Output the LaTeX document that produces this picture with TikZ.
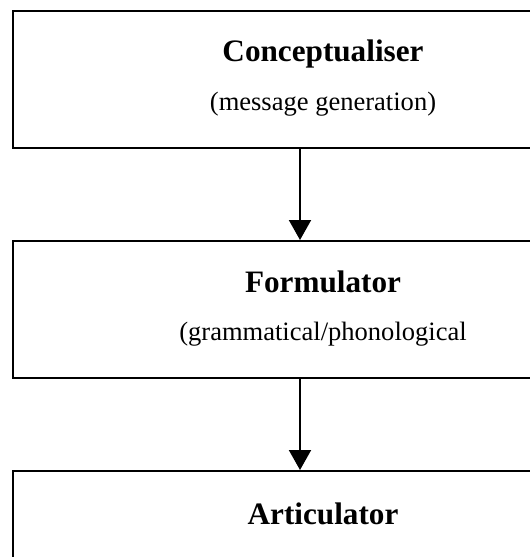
\documentclass[tikz,border=0pt]{standalone}
\usepackage{fontspec}
\setmainfont{Liberation Serif}
\usetikzlibrary{arrows.meta,positioning}

\begin{document}
\begin{tikzpicture}[x=0.75pt, y=-0.75pt,
  stage/.style={draw, line width=1.5pt, minimum width=465pt, minimum height=102.75pt, inner sep=0pt},
  ttl/.style={font=\fontsize{23.4}{28}\selectfont\bfseries, anchor=base, inner sep=0pt},
  sub/.style={font=\fontsize{19.9}{24}\selectfont, anchor=base, inner sep=0pt},
  flow/.style={-{Triangle[width=16.5pt,length=15pt]}, line width=1.5pt}]
\useasboundingbox (0,0) rectangle (530,557);
% Stages
\node[stage] (concept) at (323,79.5) {};
\node[stage] (formul) at (323,309.5) {};
\node[stage] (artic) at (323,539.5) {};
% Labels
\node[ttl] (conceptname) at (323,61) {Conceptualiser};
\node[sub] (conceptsub) at (323,110) {(message generation)};
\node[ttl] (formulname) at (323,292) {Formulator};
\node[sub] (formulsub) at (323,340) {(grammatical/phonological};
\node[ttl] (articname) at (323,524) {Articulator};
% Flow
\draw[flow] ([xshift=-17.25pt]concept.south) -- ([xshift=-17.25pt]formul.north);
\draw[flow] ([xshift=-17.25pt]formul.south) -- ([xshift=-17.25pt]artic.north);
\end{tikzpicture}
\end{document}
